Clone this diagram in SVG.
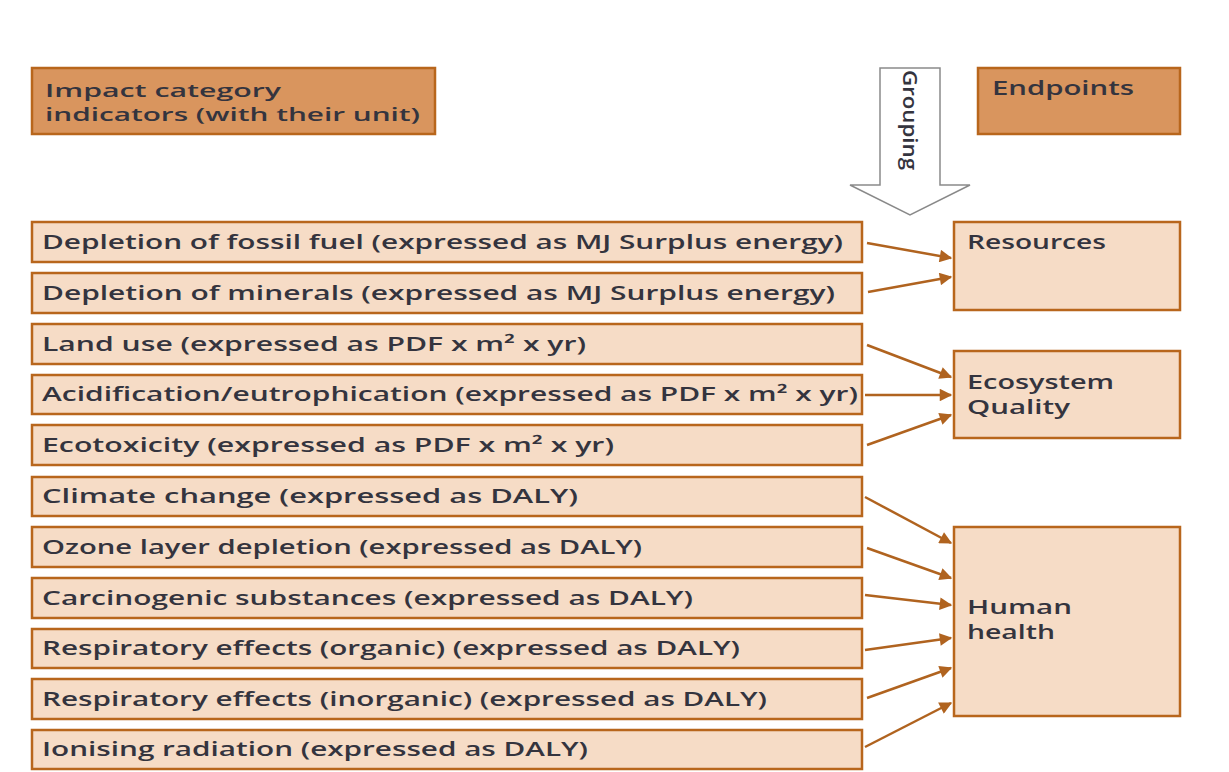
<svg xmlns="http://www.w3.org/2000/svg" width="1229" height="772" viewBox="0 0 1229 772">
<defs>
<style>
.hdr{fill:#d9955e;stroke:#b8661c;stroke-width:2.5}
.box{fill:#f6dcc6;stroke:#b8661c;stroke-width:2.5}
.t{font-family:"Open Sans","Liberation Sans",sans-serif;font-size:20px;font-weight:600;fill:#34343e}
.s{font-size:18px}
.c{stroke:#b0631f;stroke-width:2.5;fill:none;marker-end:url(#ah)}
</style>
<marker id="ah" viewBox="0 0 10 10" refX="9" refY="5" markerWidth="5.5" markerHeight="5" orient="auto" markerUnits="strokeWidth">
<path d="M0,0 L10,5 L0,10 z" fill="#b0631f"/>
</marker>
</defs>
<rect width="1229" height="772" fill="#ffffff"/>

<g id="header-indicators">
<rect class="hdr" x="32" y="68" width="403" height="66"/>
<text class="t s" x="45" y="97" textLength="236" lengthAdjust="spacingAndGlyphs">Impact category</text>
<text class="t s" x="45" y="121" textLength="375" lengthAdjust="spacingAndGlyphs">indicators (with their unit)</text>
</g>
<g id="header-endpoints">
<rect class="hdr" x="978" y="68" width="202" height="66"/>
<text class="t" x="992" y="95" textLength="142" lengthAdjust="spacingAndGlyphs">Endpoints</text>
</g>
<g id="grouping">
<path d="M880,68 L940,68 L940,185 L970,185 L910,215 L850,185 L880,185 Z" fill="#ffffff" stroke="#8a8a8a" stroke-width="1.5"/>
<text class="t" transform="translate(903,70) rotate(90)" textLength="100" lengthAdjust="spacingAndGlyphs">Grouping</text>
</g>

<g id="n1"><rect class="box" x="32" y="222" width="830" height="40"/><text class="t" x="42" y="249" textLength="801" lengthAdjust="spacingAndGlyphs">Depletion of fossil fuel (expressed as MJ Surplus energy)</text></g>
<g id="n2"><rect class="box" x="32" y="273" width="830" height="40"/><text class="t" x="42" y="300" textLength="793" lengthAdjust="spacingAndGlyphs">Depletion of minerals (expressed as MJ Surplus energy)</text></g>
<g id="n3"><rect class="box" x="32" y="324" width="830" height="40"/><text class="t" x="42" y="351" textLength="544" lengthAdjust="spacingAndGlyphs">Land use (expressed as PDF x m² x yr)</text></g>
<g id="n4"><rect class="box" x="32" y="375" width="830" height="39"/><text class="t" x="42" y="401" textLength="816" lengthAdjust="spacingAndGlyphs">Acidification/eutrophication (expressed as PDF x m² x yr)</text></g>
<g id="n5"><rect class="box" x="32" y="425" width="830" height="40"/><text class="t" x="42" y="452" textLength="572" lengthAdjust="spacingAndGlyphs">Ecotoxicity (expressed as PDF x m² x yr)</text></g>
<g id="n6"><rect class="box" x="32" y="477" width="830" height="39"/><text class="t" x="42" y="503" textLength="536" lengthAdjust="spacingAndGlyphs">Climate change (expressed as DALY)</text></g>
<g id="n7"><rect class="box" x="32" y="527" width="830" height="40"/><text class="t" x="42" y="554" textLength="600" lengthAdjust="spacingAndGlyphs">Ozone layer depletion (expressed as DALY)</text></g>
<g id="n8"><rect class="box" x="32" y="578" width="830" height="40"/><text class="t" x="42" y="605" textLength="651" lengthAdjust="spacingAndGlyphs">Carcinogenic substances (expressed as DALY)</text></g>
<g id="n9"><rect class="box" x="32" y="629" width="830" height="39"/><text class="t" x="42" y="655" textLength="698" lengthAdjust="spacingAndGlyphs">Respiratory effects (organic) (expressed as DALY)</text></g>
<g id="n10"><rect class="box" x="32" y="679" width="830" height="40"/><text class="t" x="42" y="706" textLength="725" lengthAdjust="spacingAndGlyphs">Respiratory effects (inorganic) (expressed as DALY)</text></g>
<g id="n11"><rect class="box" x="32" y="730" width="830" height="39"/><text class="t" x="42" y="756" textLength="546" lengthAdjust="spacingAndGlyphs">Ionising radiation (expressed as DALY)</text></g>

<g id="resources"><rect class="box" x="954" y="222" width="226" height="88"/><text class="t" x="967" y="249" textLength="139" lengthAdjust="spacingAndGlyphs">Resources</text></g>
<g id="ecosystem"><rect class="box" x="954" y="351" width="226" height="87"/><text class="t" x="967" y="389" textLength="147" lengthAdjust="spacingAndGlyphs">Ecosystem</text><text class="t" x="967" y="414" textLength="103" lengthAdjust="spacingAndGlyphs">Quality</text></g>
<g id="human"><rect class="box" x="954" y="527" width="226" height="189"/><text class="t" x="967" y="614" textLength="105" lengthAdjust="spacingAndGlyphs">Human</text><text class="t" x="967" y="639" textLength="88" lengthAdjust="spacingAndGlyphs">health</text></g>

<g id="connectors">
<line class="c" x1="867" y1="243" x2="951" y2="258"/>
<line class="c" x1="868" y1="292" x2="951" y2="277"/>
<line class="c" x1="867" y1="345" x2="951" y2="377"/>
<line class="c" x1="865" y1="395" x2="951" y2="395"/>
<line class="c" x1="867" y1="445" x2="951" y2="415"/>
<line class="c" x1="865" y1="497" x2="951" y2="543"/>
<line class="c" x1="867" y1="548" x2="951" y2="578"/>
<line class="c" x1="865" y1="595" x2="951" y2="605"/>
<line class="c" x1="865" y1="650" x2="951" y2="638"/>
<line class="c" x1="867" y1="698" x2="951" y2="668"/>
<line class="c" x1="865" y1="747" x2="951" y2="703"/>
</g>
</svg>
